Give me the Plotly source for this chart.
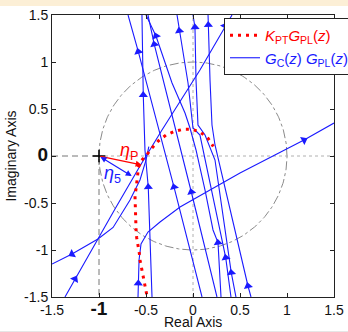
import numpy as np
import plotly.graph_objects as go

# K_PT * G_PL(z) locus (red dotted)
kpt_re = [-0.493, -0.511, -0.529, -0.546, -0.564, -0.571, -0.588, -0.599, -0.606, -0.610,
          -0.617, -0.617, -0.617, -0.606, -0.593, -0.588, -0.582, -0.553, -0.493, -0.439,
          -0.369, -0.287, -0.199, -0.103, -0.005, 0.085, 0.160, 0.216]
kpt_im = [-1.471, -1.383, -1.277, -1.199, -1.106, -1.035, -0.957, -0.869, -0.780, -0.673,
          -0.567, -0.497, -0.426, -0.348, -0.266, -0.195, -0.124, -0.053, 0.011, 0.082,
          0.160, 0.223, 0.261, 0.284, 0.284, 0.248, 0.188, 0.101]

# G_C(z) * G_PL(z) branches, listed in the direction of travel;
# each entry: (re, im, indices of points that carry a direction arrow)
branches = [
    ([-1.362, -1.255, -1.011, -0.830, -0.564, -0.330, 0.074, 0.340, 0.415],
     [-1.500, -1.309, -0.883, -0.564, -0.106, 0.277, 0.915, 1.383, 1.500], [1, 7]),
    ([-0.470, -0.500, -0.564, -0.670, -0.850, -1.011, -1.287, -1.500],
     [0.100, -0.043, -0.255, -0.468, -0.760, -0.883, -1.043, -1.149], [6]),
    ([-0.436, -0.476, -0.511, -0.529, -0.543],
     [-1.500, -0.330, 0.064, 0.649, 1.500], [1, 3]),
    ([0.096, -0.202, -0.582, -0.691],
     [-1.500, -0.330, 1.110, 1.500], [1, 2]),
    ([0.255, -0.018, -0.412, -0.479],
     [-1.500, -0.383, 1.188, 1.500], [1, 2]),
    ([0.298, 0.266, 0.213, 0.128, 0.032, -0.032, -0.085, -0.223, -0.394, -0.500],
     [-1.500, -0.922, -0.787, -0.362, 0.064, 0.298, 0.457, 0.777, 1.277, 1.500], [1, 8]),
    ([0.404, 0.348, 0.074, 0.000, -0.053, -0.146, -0.170],
     [-1.500, -1.082, 0.223, 0.298, 0.777, 1.333, 1.500], [1, 5]),
    ([0.457, 0.407, 0.234, 0.128, 0.053, 0.032, 0.021, 0.000],
     [-1.500, -1.241, -0.043, 0.223, 0.330, 0.809, 1.369, 1.500], [1, 6]),
    ([0.617, 0.585, 0.234, 0.202, 0.181, 0.163, 0.160],
     [-1.500, -1.383, 0.117, 0.330, 0.809, 1.394, 1.500], [1, 5]),
    ([-0.585, -0.582, -0.574, -0.553, -0.479, -0.351, -0.138, 0.500, 1.181, 1.500],
     [-1.500, -1.354, -1.106, -0.936, -0.809, -0.702, -0.543, -0.181, 0.170, 0.351], [1, 8]),
]

# stability-margin vectors from the critical point
crit = (-1.0, 0.0)
eta_p_tip = (-0.546, -0.096)
eta_5_tip = (-0.652, -0.213)

tick_vals = [-1.5, -1, -0.5, 0, 0.5, 1, 1.5]
x_tick_text = ['-1.5', '<span style="font-size:19px"><b>-1</b></span>', '-0.5', '0', '0.5', '1', '1.5']
y_tick_text = ['-1.5', '-1', '-0.5', '<span style="font-size:19px"><b>0</b></span>', '0.5', '1', '1.5']

BLUE = '#1a1aff'
RED = '#ff0000'
GRAY = '#8a8a8a'

fig = go.Figure()

# unit circle
t = np.linspace(0, 2 * np.pi, 361)
fig.add_trace(go.Scatter(x=np.cos(t), y=np.sin(t), mode='lines',
                         line=dict(color=GRAY, width=1, dash='dashdot'),
                         showlegend=False, hoverinfo='skip'))
# dotted axes through the origin
fig.add_trace(go.Scatter(x=[-1, 1.5], y=[0, 0], mode='lines',
                         line=dict(color='#b0b0b0', width=1, dash='dot'),
                         showlegend=False, hoverinfo='skip'))
fig.add_trace(go.Scatter(x=[0, 0], y=[-1.5, 1.5], mode='lines',
                         line=dict(color='#b0b0b0', width=1, dash='dot'),
                         showlegend=False, hoverinfo='skip'))
# dashed guides to the critical point
fig.add_trace(go.Scatter(x=[-1.5, crit[0], crit[0]], y=[crit[1], crit[1], -1.5], mode='lines',
                         line=dict(color='#777777', width=1, dash='6px,4px'),
                         showlegend=False, hoverinfo='skip'))

# blue branches
for i, (re, im, arrows) in enumerate(branches):
    fig.add_trace(go.Scatter(x=re, y=im, mode='lines',
                             line=dict(color=BLUE, width=1.1),
                             name='<span style="color:#1a1aff"><i>G</i><sub>C</sub>(<i>z</i>)<i> G</i><sub>PL</sub>(<i>z</i>)</span>',
                             legendrank=2, showlegend=(i == 0), hoverinfo='skip'))
    ax, ay, ang = [], [], []
    for k in arrows:
        dx = re[k + 1] - re[k - 1]
        dy = im[k + 1] - im[k - 1]
        ax.append(re[k])
        ay.append(im[k])
        ang.append(float(np.degrees(np.arctan2(dx, dy))))
    fig.add_trace(go.Scatter(x=ax, y=ay, mode='markers',
                             marker=dict(symbol='triangle-up', size=8, angle=ang, color=BLUE,
                                         line=dict(width=0)),
                             showlegend=False, hoverinfo='skip'))

# red dotted locus
fig.add_trace(go.Scatter(x=kpt_re, y=kpt_im, mode='lines',
                         line=dict(color=RED, width=3, dash='3px,5px'),
                         name='<span style="color:#ff0000"><i>K</i><sub>PT</sub><i>G</i><sub>PL</sub>(<i>z</i>)</span>',
                         legendrank=1, hoverinfo='skip'))

# critical point marker
fig.add_trace(go.Scatter(x=[crit[0]], y=[crit[1]], mode='markers',
                         marker=dict(symbol='cross-thin', size=9, line=dict(color='black', width=1.5)),
                         showlegend=False, hoverinfo='skip'))

# margin arrows
fig.add_annotation(x=eta_p_tip[0], y=eta_p_tip[1], ax=crit[0], ay=crit[1],
                   xref='x', yref='y', axref='x', ayref='y', text='', showarrow=True,
                   arrowhead=2, arrowsize=1, arrowwidth=1.2, arrowcolor=RED)
fig.add_annotation(x=eta_5_tip[0], y=eta_5_tip[1], ax=crit[0], ay=crit[1],
                   xref='x', yref='y', axref='x', ayref='y', text='', showarrow=True,
                   arrowhead=2, arrowsize=1, arrowwidth=1.2, arrowcolor=BLUE,
                   arrowside='end+start')
fig.add_annotation(x=-0.676, y=0.053, text='<i>η</i><sub>P</sub>', showarrow=False,
                   font=dict(color=RED, size=18, family='Liberation Sans'))
fig.add_annotation(x=-0.856, y=-0.202, text='<i>η</i><sub>5</sub>', showarrow=False,
                   font=dict(color=BLUE, size=18, family='Liberation Sans'))

# x-axis caption below the tick labels
fig.add_annotation(x=0.5, y=-25 / 282, xref='paper', yref='paper', yanchor='middle',
                   text='Real Axis', showarrow=False,
                   font=dict(family='Liberation Sans', size=14, color='#111111'))

# light header band and footer rule
fig.add_shape(type='rect', xref='paper', yref='paper',
              x0=-52 / 282, x1=296 / 282, y0=291 / 282, y1=300 / 282,
              fillcolor='#fcefd6', line=dict(width=0), layer='below')
fig.add_shape(type='line', xref='paper', yref='paper',
              x0=-52 / 282, x1=296 / 282, y0=-34.5 / 282, y1=-34.5 / 282,
              line=dict(color='#e6e6e6', width=1), layer='below')

axis_common = dict(range=[-1.5, 1.5], showgrid=False, zeroline=False, showline=True,
                   linecolor='#222222', linewidth=1, mirror='ticks', ticks='inside',
                   ticklen=4, tickcolor='#222222', tickvals=tick_vals,
                   tickfont=dict(family='Liberation Sans', size=14, color='#111111'))

fig.update_layout(
    width=348, height=332,
    margin=dict(l=52, r=14, t=15, b=35, autoexpand=False),
    paper_bgcolor='white', plot_bgcolor='white',
    xaxis=dict(**axis_common, ticktext=x_tick_text, automargin=False),
    yaxis=dict(**axis_common, ticktext=y_tick_text, automargin=False,
               title=dict(text='Imaginary Axis', font=dict(family='Liberation Sans', size=14, color='#111111'),
                          standoff=4)),
    legend=dict(x=(224 - 52) / 282, y=(297 - 18) / 282, xanchor='left', yanchor='top',
                bgcolor='white', bordercolor='#222222', borderwidth=1,
                font=dict(family='Liberation Sans', size=15), tracegroupgap=0,
                itemwidth=30),
    showlegend=True,
)

fig.write_html('out.html')
